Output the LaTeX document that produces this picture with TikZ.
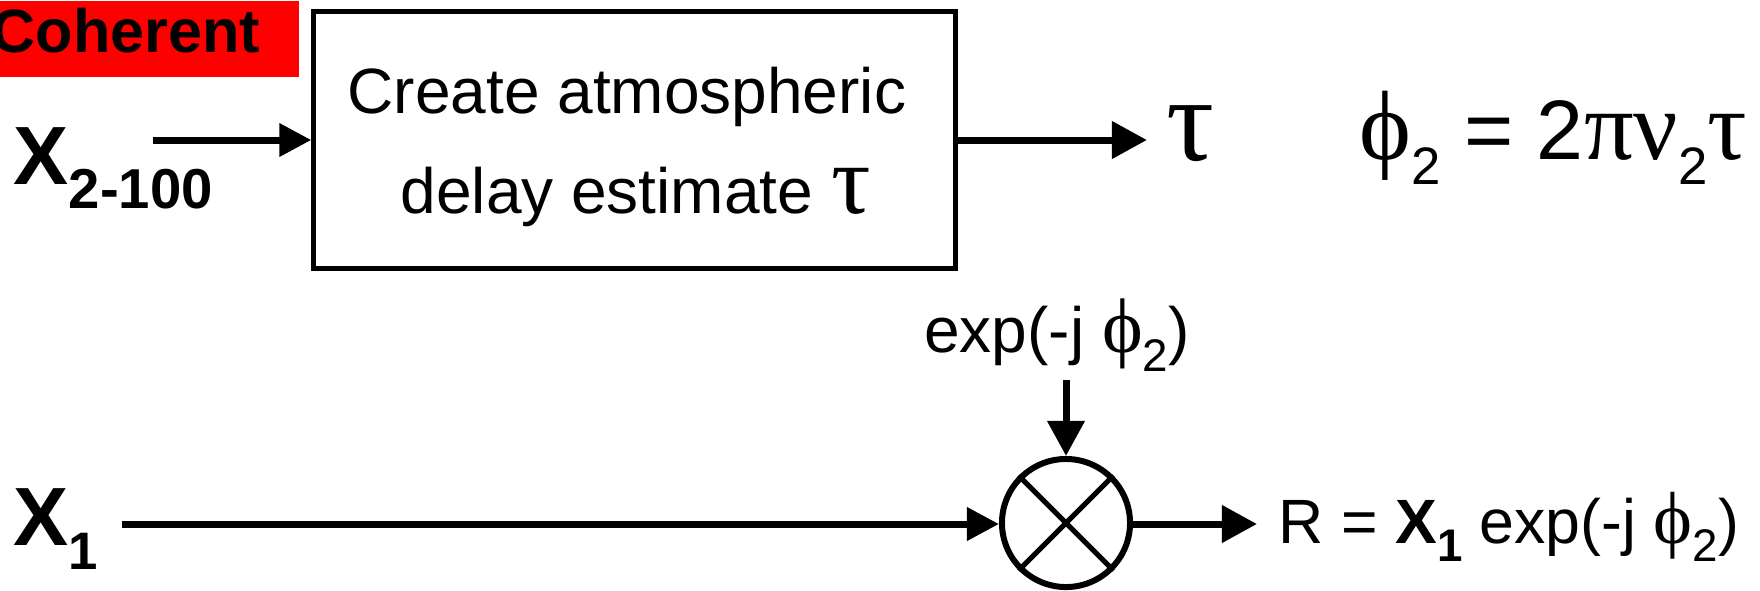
\documentclass[tikz,border=0pt]{standalone}
\usepackage{fontspec}
\setmainfont{Liberation Sans}
\newfontfamily\greekfont{Liberation Serif}
\usetikzlibrary{
  arrows.meta,
  positioning,
  calc
}
\newcommand{\gr}[2]{{\greekfont\fontsize{#1}{#1}\selectfont #2}}
\newcommand{\lowsub}[2]{\raisebox{-0.3em}{\fontsize{#1}{#1}\selectfont #2}}

\begin{document}
\begin{tikzpicture}[
  x=0.01cm, y=-0.01cm,
  blockbox/.style={
    draw, line width=0.05cm, inner sep=0pt,
    minimum width=6.41cm, minimum height=2.56cm
  },
  mixer/.style={
    draw, circle, line width=0.06cm, inner sep=0pt,
    minimum size=1.28cm
  },
  label/.style={inner sep=0pt, font=\fontsize{18.2}{18.2}\selectfont},
  signal/.style={inner sep=0pt, font=\fontsize{23.5}{23.5}\selectfont\bfseries},
  flow/.style={
    line width=0.07cm,
    -{Triangle[length=0.32cm, width=0.32cm]}
  },
  flowbig/.style={
    line width=0.07cm,
    -{Triangle[length=0.35cm, width=0.36cm]}
  }
]
  \clip (0,0) rectangle (1760,590);

  \node[fill=red, inner sep=0pt, minimum width=3.08cm, minimum height=0.76cm, anchor=north west] (tag) at (-10,0) {};
  \node[label, anchor=base west, font=\fontsize{17.4}{17.4}\selectfont\bfseries] (tagtext) at (-9,52) {Coherent};

  \node[blockbox] (delay) at (634.5,140) {};
  \node[label, anchor=base west] (delaytop) at (347,113) {Create atmospheric};
  \node[label, anchor=base west] (delaybottom) at (400,213) {delay estimate \gr{28}{τ}};

  \node[signal, anchor=base west] (xtwo) at (13,184) {X\lowsub{16}{2-100}};
  \coordinate (xtwoend) at (153,140);
  \draw[flow] (xtwoend) -- (delay.west);

  \node[anchor=base west, inner sep=0pt, inner xsep=0.19cm] (tauout) at (1147,160) {\gr{34}{τ}};
  \draw[flowbig] (delay.east) -- (delay.east -| tauout.west);

  \node[anchor=base west, inner sep=0pt, font=\fontsize{24}{24}\selectfont] (phase) at (1359,159) {\gr{28}{ϕ}\lowsub{15}{2} = 2\gr{28}{πν}\lowsub{15}{2}\gr{28}{τ}};

  \node[mixer] (mult) at (1066,523) {};
  \draw[line width=0.05cm] (mult.45) -- (mult.225);
  \draw[line width=0.05cm] (mult.135) -- (mult.315);

  \node[label, anchor=base] (expin) at (1057,352) {exp(-j \gr{22}{ϕ}\lowsub{13}{2})};
  \coordinate (expend) at (1066,380);
  \draw[flowbig] (expend) -- (mult.north);

  \node[signal, anchor=base west] (xone) at (13,545) {X\lowsub{15}{1}};
  \coordinate (xoneend) at (122,524);
  \draw[flow] (xoneend) -- (xoneend -| mult.west);

  \node[label, anchor=base west, inner xsep=0.21cm, font=\fontsize{17.8}{17.8}\selectfont] (result) at (1257,543) {R = \textbf{X\lowsub{13}{1}} exp(-j \gr{21}{ϕ}\lowsub{13}{2})};
  \draw[flowbig] (mult.east |- xoneend) -- (xoneend -| result.west);
\end{tikzpicture}
\end{document}
